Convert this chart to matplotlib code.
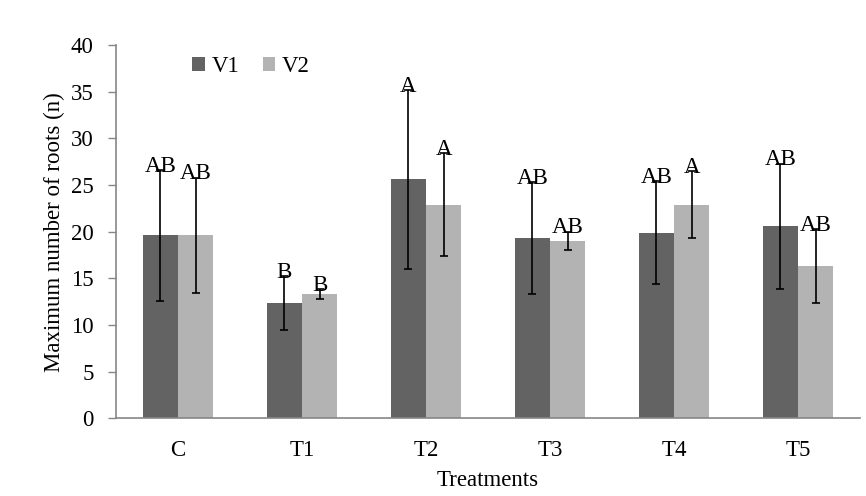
import numpy as np
from matplotlib import pyplot as plt

# Data #
treatments = ["C", "T1", "T2", "T3", "T4", "T5"]
v1_mean = [19.6, 12.3, 25.6, 19.3, 19.9, 20.6]
v1_err = [7.0, 2.9, 9.6, 6.0, 5.5, 6.7]
v1_letters = ["AB", "B", "A", "AB", "AB", "AB"]
v2_mean = [19.6, 13.3, 22.9, 19.0, 22.9, 16.3]
v2_err = [6.2, 0.55, 5.5, 1.0, 3.6, 4.0]
v2_letters = ["AB", "B", "A", "AB", "A", "AB"]

plt.rcParams['font.family'] = ['Liberation Serif', 'DejaVu Serif']
fs = 16.5

fig = plt.figure(figsize=(8.66, 4.96), dpi=100)
ax = fig.add_axes([0.134, 0.157, 0.859, 0.752])

x = np.arange(len(treatments))
w = 0.285
err_kw = dict(ecolor='black', elinewidth=1.2, capsize=3, capthick=1.2)
ax.bar(x - w / 2, v1_mean, w, yerr=v1_err, color='#636363', label='V1', error_kw=err_kw)
ax.bar(x + w / 2, v2_mean, w, yerr=v2_err, color='#b3b3b3', label='V2', error_kw=err_kw)

# Letters on top of error bars #
for i in range(len(treatments)):
    ax.text(x[i] - w / 2, v1_mean[i] + v1_err[i] - 0.2, v1_letters[i], ha='center', va='baseline', fontsize=fs)
    ax.text(x[i] + w / 2, v2_mean[i] + v2_err[i] - 0.2, v2_letters[i], ha='center', va='baseline', fontsize=fs)

ax.set_xlim(-0.5, 5.5)
ax.set_ylim(0, 40)
ax.set_yticks(range(0, 41, 5))
ax.set_xticks(x)
ax.set_xticklabels(treatments)
ax.tick_params(axis='y', labelsize=fs, length=6, color='#868686', width=1, pad=10)
ax.tick_params(axis='x', labelsize=fs, length=0, pad=16)
ax.set_xlabel("Treatments", fontsize=fs, labelpad=6)
ax.set_ylabel("Maximum number of roots (n)", fontsize=fs, labelpad=4)

for s in ['top', 'right']:
    ax.spines[s].set_visible(False)
for s in ['left', 'bottom']:
    ax.spines[s].set_color('#868686')
    ax.spines[s].set_linewidth(1.2)

ax.legend(loc='upper left', bbox_to_anchor=(0.075, 1.025), ncol=2, frameon=False, fontsize=fs,
          handlelength=0.55, handleheight=0.55, handletextpad=0.3, columnspacing=1.0)

plt.savefig("out.png", dpi=100)
